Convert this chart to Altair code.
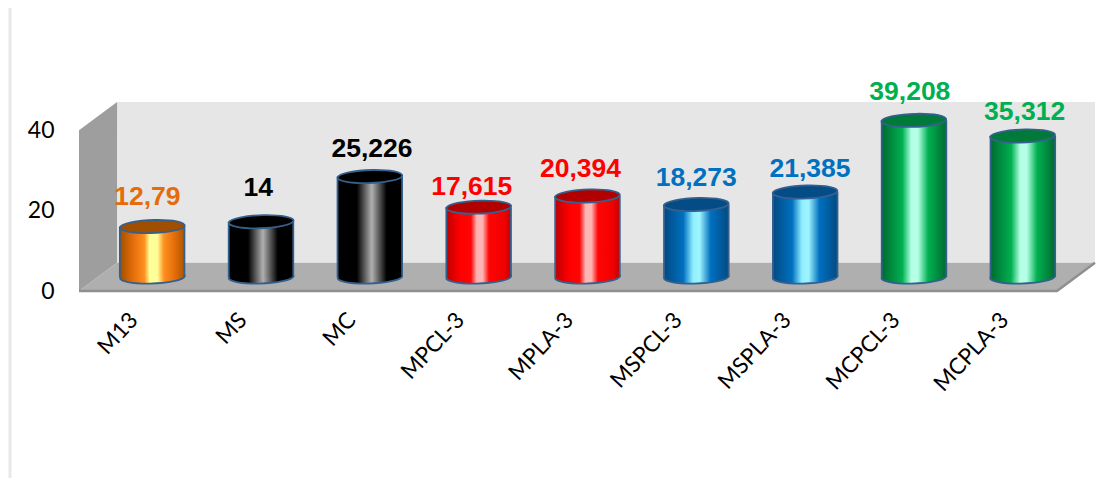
import altair as alt
import pandas as pd

CATEGORIES = ["M13", "MS", "MC", "MPCL-3", "MPLA-3", "MSPCL-3", "MSPLA-3", "MCPCL-3", "MCPLA-3"]
VALUES = [12.79, 14, 25.226, 17.615, 20.394, 18.273, 21.385, 39.208, 35.312]
LABELS = ["12,79", "14", "25,226", "17,615", "20,394", "18,273", "21,385", "39,208", "35,312"]
GROUP_OF = ["orange", "black", "black", "red", "red", "blue", "blue", "green", "green"]
LABEL_COLOR = {"orange": "#e46c0a", "black": "#000000", "red": "#ff0000", "blue": "#0070c0", "green": "#00b050"}
TOP_COLOR = {"orange": "#a04f00", "black": "#000000", "red": "#b00000", "blue": "#034c85", "green": "#007a38"}
STOPS = {
    "orange": [(0, "#a04f00"), (0.2, "#e36c09"), (0.38, "#ff9020"), (0.46, "#ffff99"), (0.58, "#ffff99"), (0.68, "#ff9020"), (0.85, "#e36c09"), (1, "#a85500")],
    "black": [(0, "#000000"), (0.3, "#000000"), (0.53, "#b0b0b0"), (0.76, "#000000"), (1, "#000000")],
    "red": [(0, "#c00000"), (0.22, "#ff0000"), (0.38, "#ff0505"), (0.47, "#ffb4b4"), (0.56, "#ffb4b4"), (0.66, "#ff0505"), (0.9, "#f00000"), (1, "#c00000")],
    "blue": [(0, "#024a80"), (0.3, "#0070c0"), (0.45, "#8fefff"), (0.55, "#9ff5ff"), (0.72, "#0070c0"), (1, "#024a80")],
    "green": [(0, "#006a30"), (0.32, "#00b050"), (0.46, "#b4ffe6"), (0.56, "#b4ffe6"), (0.72, "#00b050"), (1, "#006a30")],
}
# hand-placed data-label nudges of the source chart (dx, dy)
LABEL_NUDGE = [(-5, -30), (-3, -34), (2, -28), (-7, -20), (-7, -27), (0, -27), (5, -23), (-4, -28), (2, -24)]

# chart-space depth of the 3D box: x in category units, y in value units
DEPTH_X, DEPTH_Y, Y_TOP, Y_FRONT_TOP, N = 0.35, 7, 47, 40, 9

W, H = 1016, 189
EDGE = "#34608f"
HALF_W = 32.3
LIFT = -13
LIFT_BASE = -14
ELLIPSE = "M-1,0.02A1,0.2,-2,1,1,1,-0.02A1,0.2,-2,1,1,-1,0.02Z"
ELLIPSE_SIZE = 4180

df = pd.DataFrame({"cat": CATEGORIES, "value": VALUES, "label": LABELS, "group": GROUP_OF, "zero": [0] * N})

x_wall = alt.X("x:Q", axis=None, scale=alt.Scale(domain=[0, N + DEPTH_X], nice=False))
y_scale = alt.Scale(domain=[0, Y_TOP], nice=False)
y_axis = alt.Axis(values=[0, 20, 40], domain=False, ticks=False, grid=False, title=None,
                  labelFont="Lato", labelFontSize=23, labelColor="#000000", labelPadding=25)
y_wall = alt.Y("y:Q", scale=y_scale, axis=y_axis)


def area(points, colour):
    d = pd.DataFrame(points, columns=["x", "y", "y2"])
    return alt.Chart(d).mark_area(color=colour, opacity=1, interpolate="linear").encode(
        x=x_wall, y=y_wall, y2="y2:Q")


back = alt.Chart(pd.DataFrame({"x": [DEPTH_X], "x2": [N + DEPTH_X], "y": [DEPTH_Y], "y2": [Y_TOP]})).mark_rect(
    color="#e6e6e6").encode(x=x_wall, x2="x2:Q", y=y_wall, y2="y2:Q")
side = area([(0, 0, Y_FRONT_TOP), (DEPTH_X, DEPTH_Y, Y_TOP)], "#9e9e9e")
floor = area([(0, 0, 0), (DEPTH_X, 0, DEPTH_Y), (N, 0, DEPTH_Y), (N + DEPTH_X, DEPTH_Y, DEPTH_Y)], "#afafaf")
edge = alt.Chart(pd.DataFrame({"x": [0, N, N + DEPTH_X], "y": [0, 0, DEPTH_Y]})).mark_line(
    color="#8f8f8f", strokeWidth=2.5).encode(x=x_wall, y=y_wall)
frame = alt.Chart(pd.DataFrame({"a": [0]})).mark_rule(color="#e8e8e8", strokeWidth=3).encode(
    x=alt.value(-69), y=alt.value(-96), y2=alt.value(376))

x_scale = alt.Scale(domain=CATEGORIES, range=[19, 998], paddingInner=0.405, paddingOuter=0.2)
x_cat = alt.X("cat:N", title=None, sort=CATEGORIES, scale=x_scale, axis=None)
x_cat_axis = alt.X("cat:N", title=None, sort=CATEGORIES, scale=x_scale,
                   axis=alt.Axis(orient="bottom", labelAngle=-47, labelAlign="right", labelBaseline="middle",
                                 labelFont="Lato", labelFontSize=22.5, labelColor="#000000", labelPadding=25,
                                 labelOffset=-18, domain=False, ticks=False, grid=False, labelLimit=200))
y_val = alt.Y("value:Q", scale=y_scale, axis=y_axis)
y_zero = alt.Y("zero:Q", scale=y_scale, axis=y_axis)

layers = [back, side, floor, edge, frame]
# invisible layer that carries the category axis
layers.append(alt.Chart(df).mark_bar(opacity=0).encode(x=x_cat_axis, y=y_val))
for g in ["orange", "black", "red", "blue", "green"]:
    sub = df[df["group"] == g]
    grad = alt.Gradient(gradient="linear", x1=0, x2=1, y1=0, y2=0,
                        stops=[alt.GradientStop(offset=o, color=c) for o, c in STOPS[g]])
    base = alt.Chart(sub)
    layers.append(base.mark_point(shape=ELLIPSE, size=ELLIPSE_SIZE, filled=True, fill=grad, stroke=EDGE,
                                  strokeWidth=1.8, opacity=1, yOffset=LIFT_BASE).encode(x=x_cat, y=y_zero))
    layers.append(base.mark_bar(fill=grad, yOffset=LIFT, y2Offset=LIFT_BASE).encode(x=x_cat, y=y_val, y2="zero:Q"))
    for sign in (-1, 1):
        layers.append(base.mark_rule(color=EDGE, strokeWidth=1.8, xOffset=sign * HALF_W, yOffset=LIFT, y2Offset=LIFT_BASE)
                      .encode(x=x_cat, y=y_val, y2="zero:Q"))
    layers.append(base.mark_point(shape=ELLIPSE, size=ELLIPSE_SIZE, filled=True, fill=TOP_COLOR[g], stroke=EDGE,
                                  strokeWidth=1.8, opacity=1, yOffset=LIFT).encode(x=x_cat, y=y_val))

for i, row in df.iterrows():
    dx, dy = LABEL_NUDGE[i]
    layers.append(alt.Chart(df.iloc[[i]]).mark_text(
        font="Liberation Sans", fontWeight="bold", fontSize=26.5, color=LABEL_COLOR[row["group"]],
        dx=dx, dy=dy + LIFT, baseline="middle", align="center").encode(x=x_cat, y=y_val, text="label:N"))

chart = alt.layer(*layers).resolve_scale(x="independent").properties(
    width=W, height=H, autosize=alt.AutoSizeParams(type="none"),
    padding={"left": 71, "top": 94, "right": 10, "bottom": 187},
    background="#ffffff",
).configure_view(stroke=None)

chart.save("out.html", embed_options={"renderer": "svg", "actions": False})
